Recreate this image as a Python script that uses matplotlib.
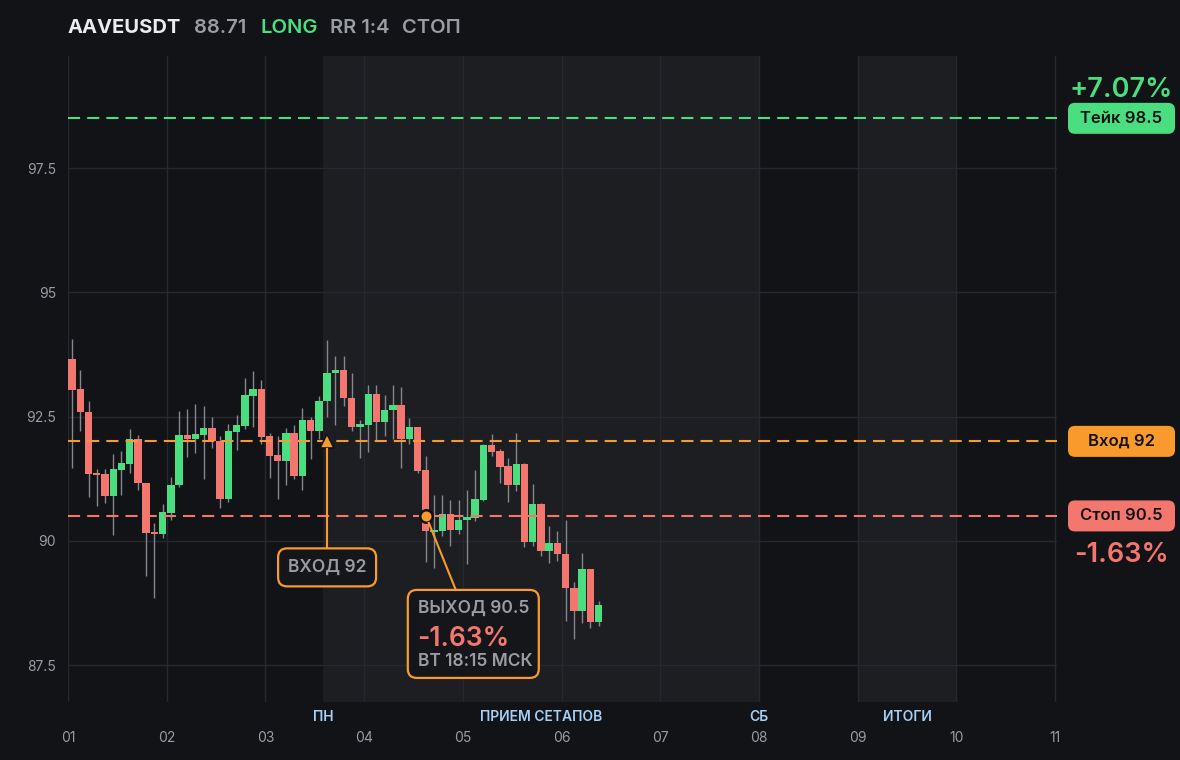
import matplotlib
matplotlib.use('Agg')
import matplotlib.pyplot as plt
import matplotlib.transforms as mtransforms
from matplotlib.patches import FancyBboxPatch
import numpy as np

plt.rcParams['font.family'] = ['Inter', 'DejaVu Sans']

# ---------------- data ----------------
symbol = "AAVEUSDT"
side = "LONG"
rr_text = "RR 1:4"
status = "СТОП"
take_price = 98.5
entry_price = 92
stop_price = 90.5
take_pct = "+7.07%"
stop_pct = "-1.63%"
exit_time = "ВТ 18:15 МСК"
entry_idx = 31
exit_idx = 43
candles_per_day = 12
first_day = 1

opens = [93.66, 93.06, 92.60, 91.36, 91.34, 90.90, 91.42, 91.54, 92.04, 91.17,
         90.17, 90.14, 90.56, 91.12, 92.12, 92.04, 92.12, 92.26, 92.00, 90.85,
         92.19, 92.30, 92.92, 93.06, 92.10, 91.72, 91.60, 92.16, 91.30, 92.42,
         92.21, 92.81, 93.37, 93.44, 92.88, 92.29, 92.33, 92.96, 92.39, 92.63,
         92.74, 92.05, 92.28, 91.42, 90.18, 90.20, 90.53, 90.22, 90.41, 90.46,
         90.83, 91.92, 91.80, 91.50, 91.12, 91.54, 89.98, 90.73, 89.80, 89.96,
         89.74, 89.05, 88.59, 89.43, 88.36]
closes = [93.04, 92.59, 91.34, 91.32, 90.90, 91.44, 91.56, 92.04, 91.16, 90.16,
          90.14, 90.57, 91.13, 92.12, 92.04, 92.14, 92.26, 92.00, 90.85, 92.20,
          92.32, 92.94, 93.06, 92.09, 91.70, 91.60, 92.16, 91.30, 92.42, 92.21,
          92.82, 93.38, 93.44, 92.87, 92.29, 92.34, 92.96, 92.39, 92.64, 92.74,
          92.05, 92.28, 91.40, 90.20, 90.22, 90.53, 90.22, 90.41, 90.47, 90.85,
          91.92, 91.78, 91.48, 91.12, 91.54, 89.98, 90.73, 89.80, 89.96, 89.74,
          89.04, 88.59, 89.43, 88.36, 88.71]
highs = [94.05, 93.44, 92.82, 91.45, 91.44, 91.74, 91.80, 92.24, 92.12, 91.17,
         90.35, 90.73, 91.29, 92.62, 92.66, 92.76, 92.72, 92.50, 92.10, 92.34,
         92.54, 93.28, 93.42, 93.24, 92.16, 92.11, 92.27, 92.33, 92.68, 92.49,
         92.92, 94.03, 93.71, 93.72, 93.38, 92.44, 93.14, 93.14, 92.94, 93.14,
         93.09, 92.48, 92.28, 91.70, 90.93, 90.93, 90.83, 90.83, 91.03, 91.42,
         91.95, 92.15, 91.85, 91.67, 92.17, 91.56, 91.15, 90.75, 90.30, 90.20,
         90.42, 89.18, 89.75, 89.43, 88.78]
lows = [91.46, 92.21, 90.88, 90.70, 90.77, 90.12, 90.92, 91.36, 91.02, 89.29,
        88.85, 90.05, 90.42, 91.08, 91.68, 91.76, 91.24, 91.86, 90.65, 90.79,
        91.82, 92.24, 92.28, 91.95, 91.26, 90.85, 91.13, 91.25, 91.02, 91.64,
        92.05, 92.49, 92.32, 92.71, 92.20, 91.67, 91.79, 92.00, 92.10, 92.04,
        91.46, 91.95, 91.37, 89.58, 89.45, 90.10, 89.90, 90.13, 89.53, 90.40,
        90.80, 91.70, 91.17, 90.78, 91.00, 89.88, 89.90, 89.70, 89.56, 89.60,
        88.38, 88.02, 88.34, 88.24, 88.29]

day_ticks = list(range(1, 12))
day_labels = ["01", "02", "03", "04", "05", "06", "07", "08", "09", "10", "11"]
y_ticks = [87.5, 90, 92.5, 95, 97.5]
y_labels = ["87.5", "90", "92.5", "95", "97.5"]

# session bands (start, end) and labels
bands = [(3 + 7 / 12, 8.0), (9.0, 10.0)]
session_labels = ["ПН", "ПРИЕМ СЕТАПОВ", "СБ", "ИТОГИ"]
session_label_x = [3 + 7 / 12, (3 + 7 / 12 + 8.0) / 2, 8.0, 9.5]

# ---------------- style ----------------
BG = '#121317'
BAND = '#1d1e22'
GRID = '#27282d'
GREEN = '#4ade80'
RED = '#f4776f'
ORANGE = '#f99b2c'
GRAY = '#9a9ca3'
WHITE = '#ececee'
DAYBLUE = '#a6d0f5'
WICK = '#85878d'

W, H = 1180, 760
fig = plt.figure(figsize=(W / 100, H / 100), dpi=100, facecolor=BG)
ax = fig.add_axes([68 / W, 1 - 702 / H, (1057 - 68) / W, (702 - 56) / H])
ax.set_facecolor(BG)
ax.set_xlim(1, 11.02)
ax.set_ylim(86.756, 99.754)

for s in ax.spines.values():
    s.set_visible(False)

for a, b in bands:
    ax.axvspan(a, b, color=BAND, zorder=0, lw=0)

ax.set_xticks(day_ticks)
ax.set_xticklabels(day_labels)
ax.set_yticks(y_ticks)
ax.set_yticklabels(y_labels)
ax.grid(True, color=GRID, lw=1, zorder=0.5)
ax.set_axisbelow(True)
ax.tick_params(axis='x', length=0, pad=21, labelsize=10, labelcolor=GRAY)
ax.tick_params(axis='y', length=0, pad=8.6, labelsize=10, labelcolor=GRAY)

# candles
o = np.array(opens); c = np.array(closes)
hi = np.array(highs); lo = np.array(lows)
n = len(o)
xs = first_day + (np.arange(n) + 0.5) / candles_per_day
cols = [GREEN if cc >= oo else RED for oo, cc in zip(o, c)]
ax.vlines(xs, lo, hi, color=WICK, lw=1, zorder=2)
body_h = np.maximum(np.abs(c - o), 0.03)
ax.bar(xs, body_h, bottom=np.minimum(o, c), width=0.9 / candles_per_day,
       color=cols, lw=0, zorder=3)

# level lines
for lvl, col in [(take_price, GREEN), (entry_price, ORANGE), (stop_price, RED)]:
    ax.axhline(lvl, color=col, lw=1.5, dashes=(5.8, 3.4), zorder=4)

# session labels
trans_lbl = mtransforms.blended_transform_factory(ax.transData, ax.transAxes)
for lx, lab in zip(session_label_x, session_labels):
    ax.text(lx, -15 / 646, lab, transform=trans_lbl, ha='center', va='center',
            fontsize=10, color=DAYBLUE, fontweight='semibold')

# entry / exit markers
xe = xs[entry_idx]
xx = xs[exit_idx]
ax.plot([xe], [entry_price], marker='^', ms=10, color=ORANGE, mec=BG, mew=1.2, zorder=6, ls='none')
ax.plot([xx], [stop_price], marker='o', ms=9, color=ORANGE, mec=BG, mew=1.8, zorder=6, ls='none')

fig.canvas.draw()

def pix_tr(x, y):
    px, py = ax.transData.transform((x, y))
    return mtransforms.Affine2D().translate(px, py)

# entry annotation
tr_e = pix_tr(xe, entry_price)
fig.add_artist(plt.Line2D([0, 0], [-8, -107], transform=tr_e, color=ORANGE, lw=1.5))
fig.add_artist(FancyBboxPatch((-49, -145), 98, 38, boxstyle="round,pad=0,rounding_size=9",
                              transform=tr_e, fc='#15161a', ec=ORANGE, lw=1.6))
fig.text(0, -126, "ВХОД %g" % entry_price, transform=tr_e, ha='center', va='center',
         fontsize=12.5, color=GRAY, fontweight='semibold')

# exit annotation
tr_x = pix_tr(xx, stop_price)
fig.add_artist(plt.Line2D([3, 30], [-7, -74], transform=tr_x, color=ORANGE, lw=1.5))
fig.add_artist(FancyBboxPatch((-18, -162), 131, 88, boxstyle="round,pad=0,rounding_size=9",
                              transform=tr_x, fc='#15161a', ec=ORANGE, lw=1.6))
fig.text(-8, -92, "ВЫХОД %g" % stop_price, transform=tr_x, ha='left', va='center',
         fontsize=12.5, color=GRAY, fontweight='semibold')
fig.text(-9, -123, stop_pct, transform=tr_x, ha='left', va='center',
         fontsize=19, color=RED, fontweight='semibold')
fig.text(-8, -146, exit_time, transform=tr_x, ha='left', va='center',
         fontsize=12.5, color=GRAY, fontweight='semibold')

# right-side level labels
def right_box(level, text, col):
    _, py = ax.transData.transform((1, level))
    tr = mtransforms.Affine2D().translate(0, py)
    fig.add_artist(FancyBboxPatch((1068, -15.5), 107, 31, boxstyle="round,pad=0,rounding_size=7",
                                  transform=tr, fc=col, ec='none'))
    fig.text(1121.5, 0, text, transform=tr, ha='center', va='center',
             fontsize=12, color='#111214', fontweight='semibold')
    return py

py_t = right_box(take_price, "Тейк %g" % take_price, GREEN)
right_box(entry_price, "Вход %g" % entry_price, ORANGE)
py_s = right_box(stop_price, "Стоп %g" % stop_price, RED)
fig.text(1121, py_t + 28, take_pct, transform=mtransforms.IdentityTransform(),
         ha='center', va='center', fontsize=19.5, color=GREEN, fontweight='semibold')
fig.text(1121, py_s - 39, stop_pct, transform=mtransforms.IdentityTransform(),
         ha='center', va='center', fontsize=19.5, color=RED, fontweight='semibold')

# header
hy = 1 - 28 / H
fig.text(68 / W, hy, symbol, ha='left', va='center', fontsize=14.5, color=WHITE, fontweight='bold')
fig.text(194 / W, hy, "%.2f" % closes[-1], ha='left', va='center', fontsize=14.5, color=GRAY, fontweight='semibold')
fig.text(260 / W, hy, side, ha='left', va='center', fontsize=14.5, color=GREEN, fontweight='semibold')
fig.text(330 / W, hy, rr_text, ha='left', va='center', fontsize=14.5, color=GRAY, fontweight='semibold')
fig.text(402 / W, hy, status, ha='left', va='center', fontsize=14.5, color=GRAY, fontweight='semibold')

fig.savefig('out.png', dpi=100, facecolor=BG)
